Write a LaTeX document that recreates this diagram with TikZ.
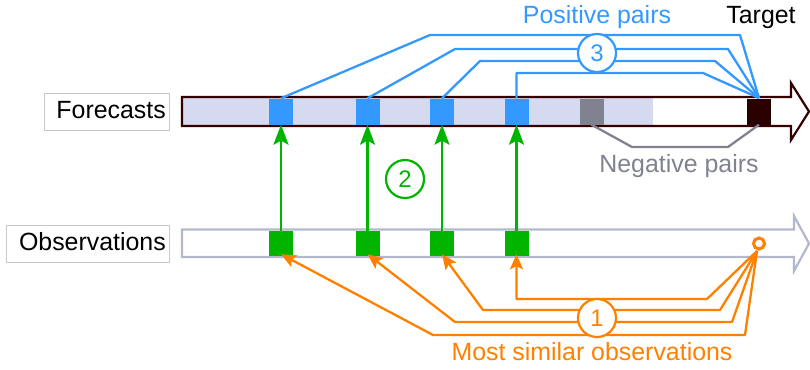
\documentclass[tikz,border=0pt]{standalone}
\usepackage{fontspec}
\setmainfont{Liberation Sans}
\usetikzlibrary{arrows.meta}
\definecolor{pblue}{RGB}{51,153,255}
\definecolor{pgreen}{RGB}{0,180,0}
\definecolor{porange}{RGB}{255,128,0}
\definecolor{pgray}{RGB}{128,131,143}
\definecolor{lav}{RGB}{214,218,241}
\definecolor{dbrown}{RGB}{51,0,0}
\definecolor{obsline}{RGB}{180,184,204}
\definecolor{boxline}{RGB}{200,200,200}
\tikzset{
  txt/.style={font=\fontsize{25}{29}\selectfont, inner sep=0pt},
  lblbox/.style={draw=boxline, line width=1bp, fill=white, inner sep=0pt},
  cell/.style={minimum width=24bp, minimum height=26bp, inner sep=0pt, draw=none},
  num/.style={circle, line width=2.2bp, fill=white, minimum size=38bp, inner sep=0pt,
              font=\fontsize{24}{28}\selectfont},
  posline/.style={draw=pblue, line width=2.3bp, line join=round},
  negline/.style={draw=pgray, line width=2.3bp, line join=round},
  simline/.style={draw=porange, line width=2.3bp, line join=round,
                  -{Stealth[length=15bp,width=13bp,inset=3bp]}},
  gline/.style={draw=pgreen, line width=2.3bp,
                -{Stealth[length=20bp,width=15bp,inset=4bp]}},
}
\begin{document}
\begin{tikzpicture}[x=1bp,y=-1bp]
\useasboundingbox (0,0) rectangle (810,369);

% row labels
\node[lblbox, minimum width=124bp, minimum height=37bp] (flbl) at (107,111.5) {};
\node[txt, anchor=base east] (ftxt) at (166,118.5) {Forecasts};
\node[lblbox, minimum width=162bp, minimum height=37bp] (olbl) at (88,243.5) {};
\node[txt, anchor=base east] (otxt) at (166,250.5) {Observations};

% forecast time axis
\fill[white] (182,97) -- (791,97) -- (791,83) -- (809,111.5) -- (791,140) -- (791,126) -- (182,126) -- cycle;
\fill[lav] (182,97) rectangle (653,126);
\draw[dbrown, line width=2.2bp, line join=miter]
  (182,97) -- (791,97) -- (791,83) -- (809,111.5) -- (791,140) -- (791,126) -- (182,126) -- cycle;

% observation time axis
\draw[obsline, line width=2.2bp, fill=white, line join=miter]
  (182,229.5) -- (794,229.5) -- (794,216) -- (809,243.5) -- (794,271) -- (794,257) -- (182,257) -- cycle;

% forecast cells
\node[cell, fill=pblue] (f1) at (281,111.5) {};
\node[cell, fill=pblue] (f2) at (367.5,111.5) {};
\node[cell, fill=pblue] (f3) at (442,111.5) {};
\node[cell, fill=pblue] (f4) at (516.5,111.5) {};
\node[cell, fill=pgray] (fn) at (591.5,111.5) {};
\node[cell, fill=dbrown!85!black] (tgt) at (759,111.5) {};

% observation cells
\node[cell, fill=pgreen, minimum height=25bp] (o1) at (281,243.5) {};
\node[cell, fill=pgreen, minimum height=25bp] (o2) at (367.5,243.5) {};
\node[cell, fill=pgreen, minimum height=25bp] (o3) at (442,243.5) {};
\node[cell, fill=pgreen, minimum height=25bp] (o4) at (516.5,243.5) {};
\node[circle, draw=porange, line width=3bp, fill=white, minimum size=11bp, inner sep=0pt] (src) at (759,243.5) {};

% positive pairs
\coordinate (tt) at (759,98);
\draw[posline] (f1.north) -- (430,35) -- (740,35) -- (tt);
\draw[posline] (f2.north) -- (455,49) -- (728,49) -- (tt);
\draw[posline] (f3.north) -- (480,61) -- (715,61) -- (tt);
\draw[posline] (f4.north) -- (516.5,73) -- (703,73) -- (tt);
\node[num, draw=pblue, text=pblue] (c3) at (597,53) {3};
\node[txt, text=pblue, anchor=base] (ptxt) at (597,23) {Positive pairs};
\node[txt, anchor=base] (ttxt) at (761,23) {Target};

% negative pairs
\draw[negline] (fn.south) -- (632,147) -- (728,147) -- (tgt.south);
\node[txt, text=pgray, anchor=base] (ntxt) at (679,172) {Negative pairs};

% observation to forecast
\draw[gline] (o1.north) -- (f1.south);
\draw[gline] (o2.north) -- (f2.south);
\draw[gline] (o3.north) -- (f3.south);
\draw[gline] (o4.north) -- (f4.south);
\node[num, draw=pgreen, text=pgreen] (c2) at (405,179) {2};

% most similar observations
\coordinate (ss) at (757,251);
\draw[simline] (ss) -- (707,299) -- (516.5,299) -- ([yshift=2bp]o4.south);
\draw[simline] (ss) -- (720,310) -- (483,310) -- ([yshift=2bp]o3.south);
\draw[simline] (ss) -- (732,322) -- (455,322) -- ([yshift=2bp]o2.south);
\draw[simline] (ss) -- (745,335) -- (433,335) -- ([yshift=2bp]o1.south);
\node[num, draw=porange, text=porange] (c1) at (597,318) {1};
\node[txt, text=porange, anchor=base] (mtxt) at (592,360) {Most similar observations};
\end{tikzpicture}
\end{document}
